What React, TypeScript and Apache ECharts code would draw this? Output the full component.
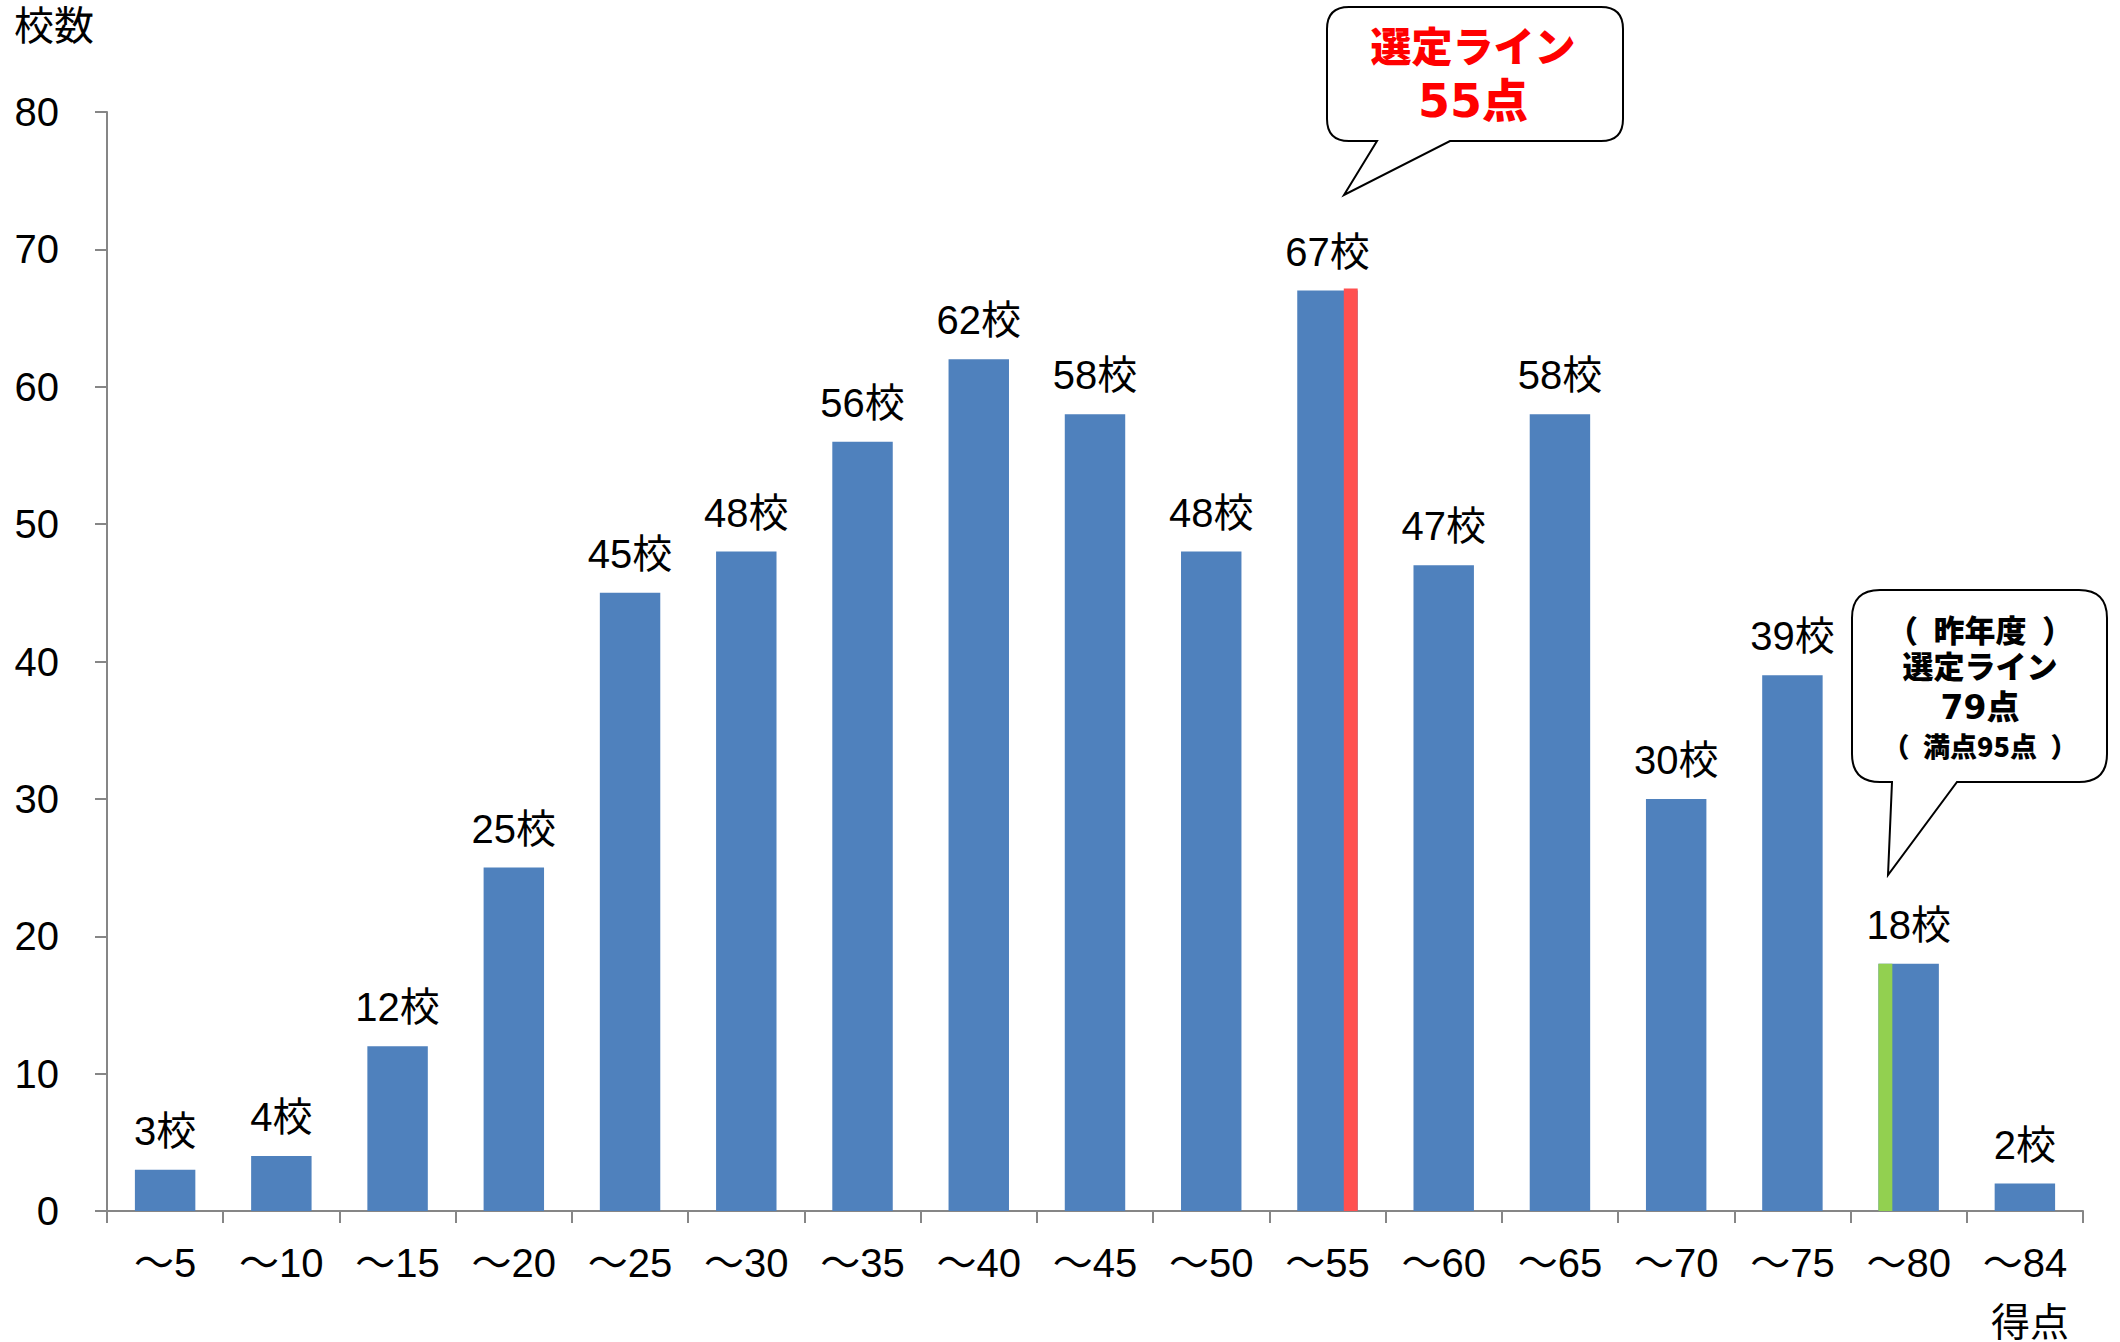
import React, { useEffect, useRef } from "react";
import * as echarts from "echarts";

const categories = ["～5", "～10", "～15", "～20", "～25", "～30", "～35", "～40", "～45", "～50", "～55", "～60", "～65", "～70", "～75", "～80", "～84"];
const counts = [3, 4, 12, 25, 45, 48, 56, 62, 58, 48, 67, 47, 58, 30, 39, 18, 2];
const yMin = 0;
const yMax = 80;
const yInterval = 10;

// Selection-line stripes drawn on top of bars
const markerCategories = ["～55", "～80"];
const markerValues = [67, 18];
const markerSides = [1, -1]; // 1 = right edge of bar, -1 = left edge
const markerColors = ["#FF5050", "#92D050"];

const calloutNowLines = ["選定ライン", "55点"];
const calloutPrevLines = ["（\u2002昨年度\u2002）", "選定ライン", "79点", "（\u2002満点95点\u2002）"];

const FONT = "'Liberation Sans', 'Noto Sans CJK JP', sans-serif";
const BOLD_FONT = "'DejaVu Sans', 'Noto Sans CJK JP', sans-serif";
const CJK_FONT = "'Noto Sans CJK JP', sans-serif";

const calloutA =
  "M 1349 7 H 1601 Q 1623 7 1623 29 V 119 Q 1623 141 1601 141 H 1450 L 1344 195 L 1377 141 H 1349 Q 1327 141 1327 119 V 29 Q 1327 7 1349 7 Z";
const calloutB =
  "M 1880 590 H 2079 Q 2107 590 2107 618 V 754 Q 2107 782 2079 782 H 1957 L 1888 875 L 1892 782 H 1880 Q 1852 782 1852 754 V 618 Q 1852 590 1880 590 Z";

echarts.graphic.registerShape("calloutA", echarts.graphic.extendPath(calloutA, {}));
echarts.graphic.registerShape("calloutB", echarts.graphic.extendPath(calloutB, {}));

const BAR_FRAC = 0.52;

export default function App() {
  const ref = useRef<HTMLDivElement>(null);
  useEffect(() => {
    if (!ref.current) return;
    const chart = echarts.init(ref.current, null, { renderer: "svg" });
    const markerData = markerCategories.map((c, i) => ({
      value: [categories.indexOf(c), markerValues[i], markerSides[i]],
      itemStyle: { color: markerColors[i] },
    }));
    const nowY = [48, 101];
    const nowSize = [41, 46];
    const prevY = [628, 667, 707, 745];
    const prevSize = [31, 31, 33, 27];
    const prevFont = [CJK_FONT, BOLD_FONT, BOLD_FONT, CJK_FONT];
    chart.setOption({
      animation: false,
      textStyle: { fontFamily: FONT },
      grid: { left: 107, right: 37, top: 112, bottom: 131 },
      xAxis: {
        type: "category",
        data: categories,
        axisLine: { lineStyle: { color: "#868686", width: 2 } },
        axisTick: { show: true, length: 12, lineStyle: { color: "#868686", width: 2 } },
        axisLabel: { color: "#000", fontSize: 40, margin: 32, fontFamily: FONT, interval: 0 },
      },
      yAxis: {
        type: "value",
        min: yMin,
        max: yMax,
        interval: yInterval,
        axisLine: { show: true, lineStyle: { color: "#868686", width: 2 } },
        axisTick: { show: true, length: 12, lineStyle: { color: "#868686", width: 2 } },
        axisLabel: { color: "#000", fontSize: 40, margin: 48, fontFamily: FONT },
        splitLine: { show: false },
      },
      series: [
        {
          type: "bar",
          data: counts,
          barWidth: BAR_FRAC * 100 + "%",
          itemStyle: { color: "#4F81BD" },
          label: {
            show: true,
            position: "top",
            distance: 19,
            formatter: "{c}校",
            color: "#000",
            fontSize: 40,
            fontFamily: FONT,
          },
          z: 2,
        },
        {
          type: "custom",
          data: markerData,
          encode: { x: 0, y: 1 },
          z: 3,
          renderItem: (params: any, api: any) => {
            const idx = api.value(0);
            const val = api.value(1);
            const side = api.value(2);
            const top = api.coord([idx, val]);
            const bottom = api.coord([idx, 0]);
            const bandW = api.size([1, 0])[0];
            const barW = bandW * BAR_FRAC;
            const stripeW = barW * 0.23;
            const lift = side > 0 ? 2 : 0;
            const left = side > 0 ? top[0] + barW / 2 - stripeW : top[0] - barW / 2;
            return {
              type: "rect",
              shape: { x: left, y: top[1] - lift, width: stripeW, height: bottom[1] - top[1] + lift },
              style: { fill: api.visual("color") },
            };
          },
        },
      ],
      graphic: [
        {
          type: "text",
          x: 14,
          y: 6,
          style: { text: "校数", fontSize: 40, fill: "#000", fontFamily: FONT },
        },
        {
          type: "text",
          x: 2030,
          y: 1322,
          style: { text: "得点", fontSize: 39, fill: "#000", fontFamily: FONT, align: "center", verticalAlign: "middle" },
        },
        {
          type: "calloutA",
          x: 0,
          y: 0,
          z: 10,
          style: { fill: "#fff", stroke: "#000", lineWidth: 2 },
        },
        {
          type: "calloutB",
          x: 0,
          y: 0,
          z: 10,
          style: { fill: "#fff", stroke: "#000", lineWidth: 2 },
        },
        ...calloutNowLines.map((t, i) => ({
          type: "text",
          x: 1473,
          y: nowY[i],
          z: 11,
          style: {
            text: t,
            fontSize: nowSize[i],
            fontWeight: 900,
            fill: "#FF0000",
            fontFamily: BOLD_FONT,
            align: "center",
            verticalAlign: "middle",
          },
        })),
        ...calloutPrevLines.map((t, i) => ({
          type: "text",
          x: 1980,
          y: prevY[i],
          z: 11,
          style: {
            text: t,
            fontSize: prevSize[i],
            fontWeight: 900,
            fill: "#000",
            fontFamily: prevFont[i],
            align: "center",
            verticalAlign: "middle",
          },
        })),
      ],
    });
    return () => chart.dispose();
  }, []);
  return (
    <div
      ref={ref}
      style={{ position: "fixed", left: 0, top: 0, width: 2120, height: 1342, background: "#fff" }}
    />
  );
}
